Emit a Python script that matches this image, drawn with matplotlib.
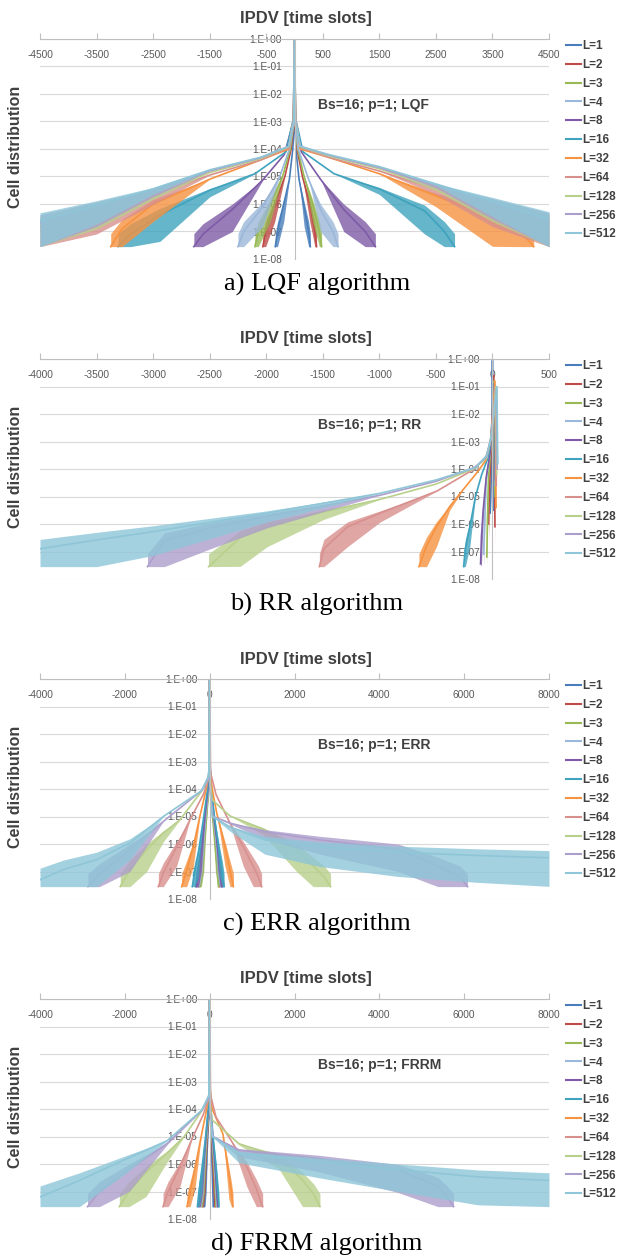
import numpy as np
import matplotlib.pyplot as plt
from matplotlib.lines import Line2D
from matplotlib.ticker import NullLocator

# series of every panel: buffer size L, drawn in this order (L=512 on top)
L_VALUES = [1, 2, 3, 4, 8, 16, 32, 64, 128, 256, 512]
SERIES_COLORS = ['#4A7EBB', '#BE4B48', '#98B954', '#9BB7D9', '#7D5BA6', '#3FA3BE',
                 '#F69240', '#D8908E', '#B8D08B', '#AD9FCB', '#8EC6D8']

Y_DECADES = [0, -1, -2, -3, -4, -5, -6, -7, -8]
Y_LABELS = ['1.E+00', '1.E-01', '1.E-02', '1.E-03', '1.E-04',
            '1.E-05', '1.E-06', '1.E-07', '1.E-08']
FLOOR = -7.55        # log10 of a single observed cell
NOISE_START = -5.2   # below this level the histogram gets noisy

# (IPDV, log10 cell distribution), left tail -> right tail
LQF = {
    1: [(-340, -7.55), (-300, -7.0), (-190, -6.0), (-90, -5.1), (-30, -4.0), (-10, -3.2), (0, -0.05),
        (10, -3.2), (25, -4.0), (80, -5.1), (170, -6.1), (250, -7.0), (280, -7.55)],
    2: [(-560, -7.55), (-510, -7.0), (-350, -6.0), (-170, -5.0), (-60, -4.0), (-15, -3.2), (0, -0.05),
        (15, -3.2), (45, -4.0), (140, -5.0), (270, -6.0), (360, -7.0), (390, -7.55)],
    3: [(-700, -7.55), (-640, -7.0), (-430, -6.0), (-210, -5.0), (-75, -4.0), (-15, -3.1), (0, -0.05),
        (15, -3.1), (55, -4.0), (170, -5.0), (320, -6.0), (440, -7.0), (480, -7.55)],
    4: [(-1000, -7.55), (-900, -7.0), (-560, -6.1), (-260, -5.0), (-90, -4.0), (-15, -3.1), (0, -0.05),
        (15, -3.1), (65, -4.0), (250, -5.1), (460, -6.2), (680, -7.0), (770, -7.55)],
    8: [(-1780, -7.55), (-1620, -7.1), (-1100, -6.2), (-550, -5.1), (-180, -4.2), (-20, -3.0), (0, -0.05),
        (20, -3.0), (120, -4.1), (460, -5.1), (870, -6.2), (1250, -7.0), (1430, -7.55)],
    16: [(-3120, -7.55), (-2900, -7.1), (-2380, -6.4), (-1500, -5.5), (-700, -4.9), (-150, -4.1), (-20, -2.9),
         (0, -0.05), (20, -2.9), (150, -4.1), (700, -4.9), (1500, -5.45), (2300, -6.25), (2650, -7.0),
         (2830, -7.55)],
    32: [(-3250, -7.55), (-3050, -6.9), (-2500, -6.0), (-1500, -5.1), (-600, -4.4), (-100, -4.0), (-20, -2.9),
         (0, -0.05), (20, -2.9), (100, -4.0), (600, -4.3), (1500, -4.9), (2500, -5.7), (3500, -6.5),
         (4000, -7.0), (4230, -7.55)],
    64: [(-4500, -6.85), (-3500, -6.25), (-2500, -5.65), (-1500, -4.95), (-600, -4.4), (-100, -3.95),
         (-15, -2.9), (0, -0.05), (15, -2.9), (100, -3.95), (600, -4.3), (1500, -4.8), (2500, -5.45),
         (3500, -6.1), (4500, -6.75)],
    128: [(-4500, -6.75), (-3500, -6.15), (-2500, -5.55), (-1500, -4.86), (-600, -4.35), (-100, -3.92),
          (-15, -2.9), (0, -0.05), (15, -2.9), (100, -3.92), (600, -4.25), (1500, -4.72), (2500, -5.37),
          (3500, -6.0), (4500, -6.65)],
    256: [(-4500, -6.68), (-3500, -6.1), (-2500, -5.5), (-1500, -4.8), (-600, -4.32), (-100, -3.9),
          (-15, -2.9), (0, -0.05), (15, -2.9), (100, -3.9), (600, -4.22), (1500, -4.68), (2500, -5.32),
          (3500, -5.95), (4500, -6.6)],
    512: [(-4500, -6.6), (-3500, -6.05), (-2500, -5.45), (-1500, -4.76), (-600, -4.3), (-100, -3.9),
          (-15, -3.0), (0, 0.0), (15, -3.0), (100, -3.9), (600, -4.2), (1500, -4.64), (2500, -5.27),
          (3500, -5.9), (4500, -6.55)],
}

RR = {
    1: [(-20, -5.6), (-8, -4.0), (-3, -3.0), (0, -0.05), (4, -3.0), (6, -5.5)],
    2: [(-35, -6.0), (-25, -4.6), (-12, -3.4), (-4, -2.5), (12, -0.6), (18, -3.0), (22, -6.1)],
    3: [(-50, -7.2), (-45, -6.0), (-35, -4.3), (-15, -3.3), (-4, -2.3), (12, -0.8), (18, -3.5), (22, -5.0)],
    4: [(-78, -7.1), (-70, -6.0), (-55, -4.4), (-20, -3.4), (-4, -2.3), (14, -0.9), (20, -3.5), (24, -4.6)],
    8: [(-105, -7.45), (-97, -6.45), (-82, -5.5), (-55, -4.3), (-20, -3.4), (-4, -2.2), (16, -0.9),
        (22, -3.5), (26, -4.4)],
    16: [(-255, -7.55), (-240, -6.9), (-200, -6.1), (-150, -5.0), (-95, -4.2), (-40, -3.6), (-8, -2.8),
         (18, -0.9), (25, -3.5), (30, -4.2)],
    32: [(-650, -7.55), (-610, -7.1), (-583, -6.8), (-495, -6.1), (-377, -5.36), (-259, -4.75), (-150, -4.2),
         (-60, -3.7), (-12, -2.9), (22, -0.8), (28, -3.0), (32, -5.4)],
    64: [(-1530, -7.55), (-1490, -6.9), (-1280, -6.1), (-990, -5.6), (-490, -4.8), (-180, -4.05), (-60, -3.6),
         (-12, -2.9), (25, -1.0), (30, -3.0), (34, -4.6)],
    128: [(-2510, -7.55), (-2230, -6.5), (-1990, -6.1), (-1490, -5.55), (-990, -5.1), (-500, -4.55),
          (-170, -4.0), (-50, -3.6), (-10, -2.8), (30, -1.0), (35, -3.0), (38, -4.2)],
    256: [(-3050, -7.55), (-2900, -6.6), (-2500, -6.15), (-1990, -5.72), (-990, -4.95), (-500, -4.45),
          (-160, -3.95), (-50, -3.55), (-10, -2.8), (35, -1.1), (40, -3.0), (42, -4.0)],
    512: [(-4000, -6.9), (-3500, -6.58), (-3000, -6.28), (-1990, -5.6), (-990, -4.88), (-500, -4.4),
          (-150, -3.95), (-50, -3.5), (-10, -2.8), (40, -1.0), (45, -3.0), (48, -3.8)],
}

ERR = {
    1: [(-330, -7.55), (-280, -7.0), (-200, -6.2), (-100, -5.0), (-30, -4.0), (-5, -3.0), (0, -0.05),
        (5, -3.0), (30, -4.0), (100, -5.0), (190, -6.2), (260, -7.0), (300, -7.55)],
    2: [(-260, -7.55), (-220, -7.0), (-160, -6.2), (-80, -5.0), (-25, -4.0), (-5, -3.0), (0, -0.05),
        (5, -3.0), (25, -4.0), (80, -5.0), (150, -6.2), (200, -7.0), (230, -7.55)],
    3: [(-230, -7.55), (-195, -7.0), (-140, -6.2), (-70, -5.0), (-22, -4.0), (-5, -3.0), (0, -0.05),
        (5, -3.0), (22, -4.0), (70, -5.0), (135, -6.2), (185, -7.0), (210, -7.55)],
    4: [(-280, -7.55), (-240, -7.0), (-175, -6.2), (-90, -5.0), (-30, -4.0), (-5, -3.0), (0, -0.05),
        (5, -3.0), (30, -4.0), (90, -5.0), (170, -6.2), (225, -7.0), (260, -7.55)],
    8: [(-310, -7.55), (-265, -7.0), (-200, -6.2), (-110, -5.0), (-40, -4.0), (-5, -3.0), (0, -0.05),
        (5, -3.0), (35, -4.0), (100, -5.0), (195, -6.2), (250, -7.0), (285, -7.55)],
    16: [(-410, -7.55), (-350, -7.0), (-268, -6.33), (-150, -5.12), (-50, -4.0), (-5, -3.0), (0, -0.05),
         (5, -3.0), (40, -4.0), (120, -5.1), (230, -6.3), (300, -7.0), (340, -7.55)],
    32: [(-660, -7.55), (-543, -6.96), (-386, -6.1), (-229, -4.98), (-80, -4.0), (-10, -3.4), (0, -0.05),
         (10, -3.3), (60, -4.0), (165, -4.86), (360, -6.09), (478, -6.96), (560, -7.55)],
    64: [(-1210, -7.55), (-1093, -7.06), (-778, -6.09), (-464, -5.12), (-150, -4.2), (-20, -3.6), (0, -0.05),
         (20, -3.4), (150, -4.2), (478, -5.24), (792, -6.09), (1028, -6.82), (1150, -7.2), (1225, -7.55)],
    128: [(-2110, -7.55), (-1880, -6.93), (-1486, -6.2), (-1093, -5.6), (-700, -5.12), (-200, -4.1),
          (-20, -3.6), (0, -0.05), (15, -3.8), (60, -4.4), (480, -4.98), (1265, -5.46), (2050, -6.2),
          (2440, -6.8), (2700, -7.2), (2850, -7.55)],
    256: [(-2870, -7.55), (-2600, -7.1), (-1880, -6.2), (-1093, -5.18), (-190, -4.06), (-20, -3.6),
          (0, -0.05), (15, -4.1), (80, -5.0), (500, -5.25), (1300, -5.55), (2600, -5.85), (4440, -6.2),
          (5380, -6.8), (5900, -7.2), (6080, -7.55)],
    512: [(-4000, -7.3), (-3450, -6.93), (-2665, -6.57), (-1880, -5.96), (-1093, -5.0), (-190, -4.06),
          (-20, -3.5), (0, 0.0), (15, -4.2), (60, -5.0), (500, -5.4), (1300, -5.85), (2600, -6.1),
          (4440, -6.3), (6330, -6.42), (8000, -6.5)],
}

FRRM = {
    1: [(-130, -7.55), (-110, -7.0), (-80, -6.2), (-45, -5.0), (-15, -4.0), (-3, -3.0), (0, -0.05),
        (3, -3.0), (12, -4.0), (35, -5.0), (60, -6.2), (75, -7.0), (85, -7.55)],
    2: [(-170, -7.55), (-145, -7.0), (-105, -6.2), (-55, -5.0), (-18, -4.0), (-3, -3.0), (0, -0.05),
        (3, -3.0), (15, -4.0), (45, -5.0), (85, -6.2), (110, -7.0), (125, -7.55)],
    3: [(-200, -7.55), (-170, -7.0), (-125, -6.2), (-65, -5.0), (-20, -4.0), (-3, -3.0), (0, -0.05),
        (3, -3.0), (18, -4.0), (55, -5.0), (105, -6.2), (135, -7.0), (150, -7.55)],
    4: [(-230, -7.55), (-195, -7.0), (-145, -6.2), (-75, -5.0), (-25, -4.0), (-4, -3.0), (0, -0.05),
        (4, -3.0), (20, -4.0), (60, -5.0), (120, -6.2), (155, -7.0), (170, -7.55)],
    8: [(-260, -7.55), (-220, -7.0), (-165, -6.2), (-85, -5.0), (-30, -4.0), (-4, -3.0), (0, -0.05),
        (4, -3.0), (25, -4.0), (70, -5.0), (135, -6.2), (170, -7.0), (190, -7.55)],
    16: [(-290, -7.55), (-250, -7.0), (-185, -6.2), (-95, -5.0), (-35, -4.0), (-5, -3.0), (0, -0.05),
         (5, -3.0), (30, -4.0), (80, -5.0), (155, -6.2), (195, -7.0), (220, -7.55)],
    32: [(-535, -7.55), (-460, -7.0), (-340, -6.1), (-200, -5.0), (-70, -4.0), (-10, -3.4), (0, -0.05),
         (10, -3.3), (60, -4.0), (311, -4.9), (452, -6.35), (510, -7.0), (550, -7.55)],
    64: [(-1100, -7.55), (-980, -7.0), (-700, -6.1), (-420, -5.1), (-150, -4.2), (-20, -3.6), (0, -0.05),
         (20, -3.5), (150, -4.3), (500, -5.13), (875, -6.1), (1100, -6.9), (1250, -7.55)],
    128: [(-2130, -7.55), (-1900, -7.0), (-1500, -6.3), (-1000, -5.6), (-600, -5.0), (-200, -4.1),
          (-20, -3.6), (0, -0.05), (15, -3.9), (60, -4.4), (690, -5.26), (1630, -5.74), (2190, -6.58),
          (2450, -7.1), (2600, -7.55)],
    256: [(-2880, -7.55), (-2600, -7.0), (-1900, -6.2), (-1000, -5.25), (-190, -4.06), (-20, -3.6),
          (0, -0.05), (15, -4.1), (80, -5.0), (690, -5.5), (2560, -5.8), (4440, -6.22), (5380, -6.8),
          (5600, -7.2), (5750, -7.55)],
    512: [(-4000, -7.2), (-3070, -6.6), (-2130, -5.93), (-1000, -5.15), (-190, -4.05), (-20, -3.5),
          (0, 0.0), (15, -4.2), (60, -5.0), (690, -5.62), (2560, -5.92), (4440, -6.2), (6330, -6.47),
          (8000, -6.6)],
}

LQF_TICKS = [-4500, -3500, -2500, -1500, -500, 500, 1500, 2500, 3500, 4500]
RR_TICKS = [-4000, -3500, -3000, -2500, -2000, -1500, -1000, -500, 0, 500]
ERR_TICKS = [-4000, -2000, 0, 2000, 4000, 6000, 8000]

PANELS = [
    (LQF, LQF_TICKS, 'Bs=16; p=1; LQF', 'a) LQF algorithm'),
    (RR, RR_TICKS, 'Bs=16; p=1; RR', 'b) RR algorithm'),
    (ERR, ERR_TICKS, 'Bs=16; p=1; ERR', 'c) ERR algorithm'),
    (FRRM, ERR_TICKS, 'Bs=16; p=1; FRRM', 'd) FRRM algorithm'),
]

W, H = 621, 1259
SANS = ['Liberation Sans', 'DejaVu Sans']
GRAY_TXT = '#595959'
DARK_TXT = '#404040'

fig = plt.figure(figsize=(W / 100, H / 100), dpi=100)


def fy(py):
    return 1 - py / H


for i, (curves, ticks, note, caption) in enumerate(PANELS):
    top = 39 + 320 * i
    ax = fig.add_axes([40 / W, fy(top + 220), 509 / W, 220 / H])
    ax.set_yscale('log')

    handles = []
    for k, (L, color) in enumerate(zip(L_VALUES, SERIES_COLORS)):
        pts = np.array(curves[L], dtype=float)
        x, e = pts[:, 0], pts[:, 1]
        # noisy tail: the histogram scatters down towards the one-cell floor
        w = np.clip(NOISE_START - e, 0, None) * 0.8
        lo = np.maximum(e - w, FLOOR)
        hi = e + 0.25 * w
        ax.fill_between(x, 10 ** lo, 10 ** hi, color=color, lw=0, alpha=0.8, zorder=2 + k * 0.01)
        ax.plot(x, 10 ** e, color=color, lw=1.2, zorder=2.005 + k * 0.01)
        handles.append(Line2D([], [], color=color, lw=1.5))

    ax.set_xlim(ticks[0], ticks[-1])
    ax.set_ylim(1e-8, 1)

    for s in ['bottom', 'right']:
        ax.spines[s].set_visible(False)
    ax.spines['top'].set_color('#BFBFBF')
    ax.spines['left'].set_color('#BFBFBF')
    ax.spines['left'].set_position(('data', 0))

    ax.set_yticks([10.0 ** d for d in Y_DECADES])
    ax.set_yticklabels(Y_LABELS, family=SANS)
    ax.yaxis.set_minor_locator(NullLocator())
    ax.tick_params(axis='y', length=0, pad=9, labelsize=7.3, labelcolor=GRAY_TXT)
    ax.grid(axis='y', color='#D9D9D9', lw=0.8)
    ax.set_axisbelow(True)

    ax.set_xticks(ticks)
    ax.set_xticklabels([str(t) for t in ticks], family=SANS)
    ax.tick_params(axis='x', top=True, bottom=False, labeltop=True, labelbottom=False,
                   direction='out', length=4, color='#BFBFBF', pad=-19,
                   labelsize=7.3, labelcolor=GRAY_TXT)

    leg = ax.legend(handles, ['L=%d' % L for L in L_VALUES], loc='upper left',
                    bbox_to_anchor=(566 / W, fy(top + 1)), bbox_transform=fig.transFigure,
                    frameon=False, handlelength=1.25, handletextpad=0.15, labelspacing=0.58,
                    borderpad=0, borderaxespad=0,
                    prop={'family': SANS, 'weight': 'bold', 'size': 8.5})
    for t in leg.get_texts():
        t.set_color(DARK_TXT)

    fig.text(306 / W, fy(top - 20), 'IPDV [time slots]', ha='center', va='center',
             fontsize=12, weight='bold', family=SANS, color=DARK_TXT)
    fig.text(16 / W, fy(top + 108), 'Cell distribution', rotation=90, ha='center', va='center',
             fontsize=11.5, weight='bold', family=SANS, color=DARK_TXT)
    fig.text(318 / W, fy(top + 66), note, ha='left', va='center',
             fontsize=10, weight='bold', family=SANS, color=DARK_TXT)
    fig.text(317 / W, fy(top + 245), caption, ha='center', va='center',
             fontsize=19, family=['Liberation Serif', 'DejaVu Serif'], color='black')

fig.savefig('out.png', dpi=100)
